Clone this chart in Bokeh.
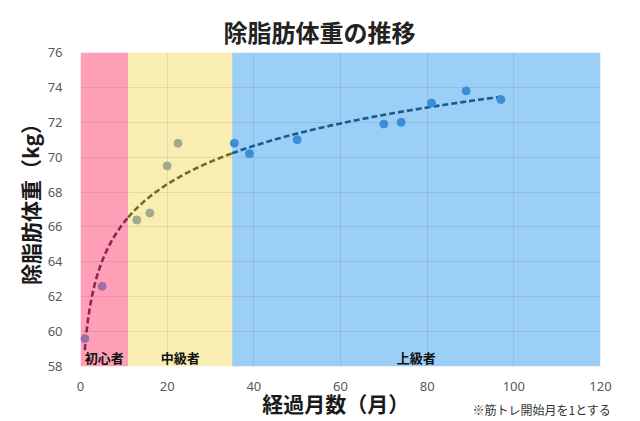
import numpy as np
from bokeh.plotting import figure
from bokeh.models import Range1d, FixedTicker, Label, ColumnDataSource
from bokeh.core.properties import value
from bokeh.embed import file_html
from bokeh.resources import INLINE

# ---- data ----
months = [1, 5, 13, 16, 20, 22.5, 35.5, 39, 50, 70, 74, 81, 89, 97]
lean_mass = [59.6, 62.6, 66.4, 66.8, 69.5, 70.8, 70.8, 70.2, 71.0, 71.9, 72.0, 73.1, 73.8, 73.3]
stage_names = ["初心者", "中級者", "上級者"]
stage_bounds = [0, 11, 35, 120]
x_ticks = [0, 20, 40, 60, 80, 100, 120]
y_ticks = [58, 60, 62, 64, 66, 68, 70, 72, 74, 76]

title_text = "除脂肪体重の推移"
x_label_text = "経過月数（月）"
y_label_text = "除脂肪体重（kg）"
note_text = "※筋トレ開始月を1とする"

# ---- style ----
stage_fill = ["#FF9FB7", "#FAEDB2", "#9CCFF5"]
stage_point = ["#9C6FA6", "#A3A98F", "#3A8ED8"]
stage_line = ["#8E2456", "#6F6B2E", "#175C8E"]
CJK = "Noto Sans CJK JP"

W, H = 640, 421
p = figure(width=W, height=H, output_backend="svg", toolbar_location=None,
           x_range=Range1d(0, 120), y_range=Range1d(58, 76),
           min_border_left=80, min_border_right=40, min_border_top=52, min_border_bottom=55)
p.title.visible = False
p.outline_line_color = None
p.background_fill_color = "white"
p.border_fill_color = "white"

# stage regions
lo = stage_bounds[:-1]
hi = stage_bounds[1:]
p.quad(left=lo, right=hi, bottom=58, top=76, fill_color=stage_fill, line_color=None, level="image")

# grid / axes
p.xaxis.ticker = FixedTicker(ticks=x_ticks)
p.yaxis.ticker = FixedTicker(ticks=y_ticks)
p.xgrid.ticker = FixedTicker(ticks=x_ticks)
p.ygrid.ticker = FixedTicker(ticks=y_ticks)
for g in (p.xgrid, p.ygrid):
    g.grid_line_color = "black"
    g.grid_line_alpha = 0.08
    g.grid_line_width = 1

for ax in (p.xaxis, p.yaxis):
    ax.axis_line_color = None
    ax.major_tick_line_color = None
    ax.minor_tick_line_color = None
    ax.major_label_text_font = "Noto Sans"
    ax.major_label_text_font_size = "13px"
    ax.major_label_text_color = "#595959"
    ax.axis_label_text_font = CJK
    ax.axis_label_text_font_style = "bold"
    ax.axis_label_text_font_size = "21px"
    ax.axis_label_text_color = "#1a1a1a"
p.yaxis.major_label_standoff = 12
p.xaxis.major_label_standoff = 9
# padding spaces nudge the centred labels to the reference position
p.xaxis.axis_label = x_label_text + "\u00a0\u00a0"
p.yaxis.axis_label = "\u3000" + y_label_text
p.xaxis.axis_label_standoff = -6
p.yaxis.axis_label_standoff = 0

# logarithmic trendline fitted from the data
mx = np.array(months, dtype=float)
my = np.array(lean_mass, dtype=float)
a, b = np.polyfit(np.log(mx), my, 1)
for i in range(len(stage_names)):
    x0 = max(lo[i], mx.min())
    x1 = min(hi[i], mx.max())
    if x1 <= x0:
        continue
    xs = np.linspace(x0, x1, 120)
    p.line(xs, a * np.log(xs) + b, line_color=stage_line[i], line_width=2.6, line_dash="6 3")

# points coloured by stage
idx = np.searchsorted(np.array(stage_bounds), mx, side="right") - 1
src = ColumnDataSource(dict(x=months, y=lean_mass, c=[stage_point[k] for k in idx]))
p.scatter("x", "y", source=src, size=8, fill_color="c", line_color="c")

# stage labels
mids = [(l + h) / 2 for l, h in zip(lo, hi)]
p.text(x=mids, y=[58.52] * 3, text=stage_names, text_font=value(CJK), text_font_size="13px",
       text_font_style="bold", text_color="#111111", text_align="center", text_baseline="middle")

# title and footnote in the top panel (canvas units, not clipped)
p.add_layout(Label(x=319, y=31, x_units="canvas", y_units="canvas", text=title_text,
                   text_font=CJK, text_font_style="bold", text_font_size="24px",
                   text_color="#222222", text_align="center", text_baseline="middle"), "above")
p.add_layout(Label(x=472, y=409, x_units="canvas", y_units="canvas", text=note_text,
                   text_font=CJK, text_font_size="12px", text_color="#333333",
                   text_align="left", text_baseline="middle"), "above")

open("out.html", "w").write(file_html(p, INLINE))
